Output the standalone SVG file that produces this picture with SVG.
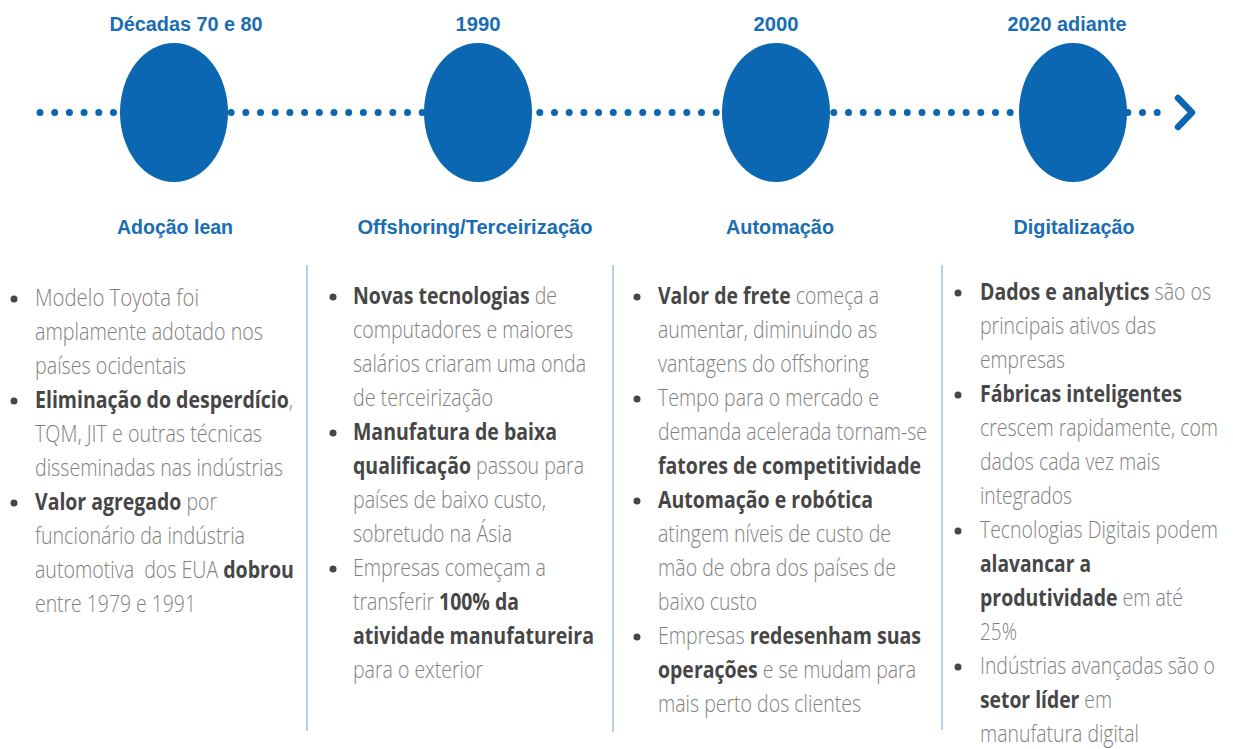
<svg xmlns="http://www.w3.org/2000/svg" width="1233" height="749" viewBox="0 0 1233 749">
<style>
.hd{font-family:"Liberation Sans",Arial,sans-serif;font-weight:bold;font-size:20px;fill:#1a6db3;text-anchor:middle}
.sub{font-family:"Liberation Sans",Arial,sans-serif;font-weight:bold;font-size:20px;fill:#1a6db3;text-anchor:middle}
.node{fill:#0b67b1}
.t{font-family:"Open Sans","Noto Sans",sans-serif;font-size:23px;font-weight:300;fill:#808080}
.b{font-weight:bold;fill:#464646}
.bul{fill:#464646}
.sep{stroke:#b5d1ea;stroke-width:2}
.dots{fill:none;stroke:#0b67b1;stroke-width:7;stroke-linecap:round;stroke-dasharray:0 14.7}
.arr{fill:none;stroke:#0b67b1;stroke-width:6.5;stroke-linecap:round;stroke-linejoin:round}
</style>
<rect width="1233" height="749" fill="#ffffff"/>
<g id="connectors">
<line class="dots" x1="40" y1="112.5" x2="1160" y2="112.5"/>
<polyline class="arr" points="1178,98 1192,112.5 1178,127"/>
</g>
<g id="node-70-80">
<ellipse class="node" cx="174" cy="112.5" rx="54" ry="69.5"/>
<text class="hd" x="186" y="31" textLength="153" lengthAdjust="spacingAndGlyphs">Décadas 70 e 80</text>
<text class="sub" x="175" y="234" textLength="116" lengthAdjust="spacingAndGlyphs">Adoção lean</text>
</g>
<g id="node-1990">
<ellipse class="node" cx="478" cy="112.5" rx="54" ry="69.5"/>
<text class="hd" x="478" y="31" textLength="45" lengthAdjust="spacingAndGlyphs">1990</text>
<text class="sub" x="475" y="234" textLength="235" lengthAdjust="spacingAndGlyphs">Offshoring/Terceirização</text>
</g>
<g id="node-2000">
<ellipse class="node" cx="776" cy="112.5" rx="54" ry="69.5"/>
<text class="hd" x="776" y="31" textLength="45" lengthAdjust="spacingAndGlyphs">2000</text>
<text class="sub" x="780" y="234" textLength="108" lengthAdjust="spacingAndGlyphs">Automação</text>
</g>
<g id="node-2020">
<ellipse class="node" cx="1073" cy="112.5" rx="54" ry="69.5"/>
<text class="hd" x="1067" y="31" textLength="119" lengthAdjust="spacingAndGlyphs">2020 adiante</text>
<text class="sub" x="1074" y="234" textLength="121" lengthAdjust="spacingAndGlyphs">Digitalização</text>
</g>
<g id="separators">
<line class="sep" x1="307" y1="265" x2="307" y2="731"/>
<line class="sep" x1="613" y1="265" x2="613" y2="732"/>
<line class="sep" x1="942" y1="265" x2="942" y2="730"/>
</g>
<g id="col-1">
<circle class="bul" cx="14" cy="299" r="3.5"/>
<circle class="bul" cx="14" cy="401" r="3.5"/>
<circle class="bul" cx="14" cy="503" r="3.5"/>
<text class="t" x="35" y="306" textLength="164" lengthAdjust="spacingAndGlyphs">Modelo Toyota foi</text>
<text class="t" x="35" y="340" textLength="228" lengthAdjust="spacingAndGlyphs">amplamente adotado nos</text>
<text class="t" x="35" y="374" textLength="151" lengthAdjust="spacingAndGlyphs">países ocidentais</text>
<text class="t" x="35" y="408" textLength="258" lengthAdjust="spacingAndGlyphs"><tspan class="b">Eliminação do desperdício</tspan>,</text>
<text class="t" x="35" y="442" textLength="227" lengthAdjust="spacingAndGlyphs">TQM, JIT e outras técnicas</text>
<text class="t" x="35" y="476" textLength="248" lengthAdjust="spacingAndGlyphs">disseminadas nas indústrias</text>
<text class="t" x="35" y="510" textLength="182" lengthAdjust="spacingAndGlyphs"><tspan class="b">Valor agregado</tspan> por</text>
<text class="t" x="35" y="544" textLength="210" lengthAdjust="spacingAndGlyphs">funcionário da indústria</text>
<text class="t" x="35" y="578" textLength="259" lengthAdjust="spacingAndGlyphs">automotiva&#160; dos EUA <tspan class="b">dobrou</tspan></text>
<text class="t" x="35" y="612" textLength="161" lengthAdjust="spacingAndGlyphs">entre 1979 e 1991</text>
</g>
<g id="col-2">
<circle class="bul" cx="333" cy="297" r="3.5"/>
<circle class="bul" cx="333" cy="433" r="3.5"/>
<circle class="bul" cx="333" cy="569" r="3.5"/>
<text class="t" x="353" y="304" textLength="204" lengthAdjust="spacingAndGlyphs"><tspan class="b">Novas tecnologias</tspan> de</text>
<text class="t" x="353" y="338" textLength="220" lengthAdjust="spacingAndGlyphs">computadores e maiores</text>
<text class="t" x="353" y="372" textLength="233" lengthAdjust="spacingAndGlyphs">salários criaram uma onda</text>
<text class="t" x="353" y="406" textLength="140" lengthAdjust="spacingAndGlyphs">de terceirização</text>
<text class="t" x="353" y="440" textLength="204" lengthAdjust="spacingAndGlyphs"><tspan class="b">Manufatura de baixa</tspan></text>
<text class="t" x="353" y="474" textLength="231" lengthAdjust="spacingAndGlyphs"><tspan class="b">qualificação</tspan> passou para</text>
<text class="t" x="353" y="508" textLength="193" lengthAdjust="spacingAndGlyphs">países de baixo custo,</text>
<text class="t" x="353" y="542" textLength="159" lengthAdjust="spacingAndGlyphs">sobretudo na Ásia</text>
<text class="t" x="353" y="576" textLength="193" lengthAdjust="spacingAndGlyphs">Empresas começam a</text>
<text class="t" x="353" y="610" textLength="166" lengthAdjust="spacingAndGlyphs">transferir <tspan class="b">100% da</tspan></text>
<text class="t" x="353" y="644" textLength="241" lengthAdjust="spacingAndGlyphs"><tspan class="b">atividade manufatureira</tspan></text>
<text class="t" x="353" y="678" textLength="130" lengthAdjust="spacingAndGlyphs">para o exterior</text>
</g>
<g id="col-3">
<circle class="bul" cx="637" cy="297" r="3.5"/>
<circle class="bul" cx="637" cy="399" r="3.5"/>
<circle class="bul" cx="637" cy="501" r="3.5"/>
<circle class="bul" cx="637" cy="637" r="3.5"/>
<text class="t" x="658" y="304" textLength="221" lengthAdjust="spacingAndGlyphs"><tspan class="b">Valor de frete</tspan> começa a</text>
<text class="t" x="658" y="338" textLength="219" lengthAdjust="spacingAndGlyphs">aumentar, diminuindo as</text>
<text class="t" x="658" y="372" textLength="211" lengthAdjust="spacingAndGlyphs">vantagens do offshoring</text>
<text class="t" x="658" y="406" textLength="221" lengthAdjust="spacingAndGlyphs">Tempo para o mercado e</text>
<text class="t" x="658" y="440" textLength="269" lengthAdjust="spacingAndGlyphs">demanda acelerada tornam-se</text>
<text class="t" x="658" y="474" textLength="263" lengthAdjust="spacingAndGlyphs"><tspan class="b">fatores de competitividade</tspan></text>
<text class="t" x="658" y="508" textLength="215" lengthAdjust="spacingAndGlyphs"><tspan class="b">Automação e robótica</tspan></text>
<text class="t" x="658" y="542" textLength="233" lengthAdjust="spacingAndGlyphs">atingem níveis de custo de</text>
<text class="t" x="658" y="576" textLength="238" lengthAdjust="spacingAndGlyphs">mão de obra dos países de</text>
<text class="t" x="658" y="610" textLength="99" lengthAdjust="spacingAndGlyphs">baixo custo</text>
<text class="t" x="658" y="644" textLength="263" lengthAdjust="spacingAndGlyphs">Empresas <tspan class="b">redesenham suas</tspan></text>
<text class="t" x="658" y="678" textLength="258" lengthAdjust="spacingAndGlyphs"><tspan class="b">operações</tspan> e se mudam para</text>
<text class="t" x="658" y="712" textLength="203" lengthAdjust="spacingAndGlyphs">mais perto dos clientes</text>
</g>
<g id="col-4">
<circle class="bul" cx="958" cy="293" r="3.5"/>
<circle class="bul" cx="958" cy="395" r="3.5"/>
<circle class="bul" cx="958" cy="531" r="3.5"/>
<circle class="bul" cx="958" cy="667" r="3.5"/>
<text class="t" x="980" y="300" textLength="231" lengthAdjust="spacingAndGlyphs"><tspan class="b">Dados e analytics</tspan> são os</text>
<text class="t" x="980" y="334" textLength="176" lengthAdjust="spacingAndGlyphs">principais ativos das</text>
<text class="t" x="980" y="368" textLength="85" lengthAdjust="spacingAndGlyphs">empresas</text>
<text class="t" x="980" y="402" textLength="202" lengthAdjust="spacingAndGlyphs"><tspan class="b">Fábricas inteligentes</tspan></text>
<text class="t" x="980" y="436" textLength="238" lengthAdjust="spacingAndGlyphs">crescem rapidamente, com</text>
<text class="t" x="980" y="470" textLength="180" lengthAdjust="spacingAndGlyphs">dados cada vez mais</text>
<text class="t" x="980" y="504" textLength="92" lengthAdjust="spacingAndGlyphs">integrados</text>
<text class="t" x="980" y="538" textLength="238" lengthAdjust="spacingAndGlyphs">Tecnologias Digitais podem</text>
<text class="t" x="980" y="572" textLength="111" lengthAdjust="spacingAndGlyphs"><tspan class="b">alavancar a</tspan></text>
<text class="t" x="980" y="606" textLength="203" lengthAdjust="spacingAndGlyphs"><tspan class="b">produtividade</tspan> em até</text>
<text class="t" x="980" y="640" textLength="37" lengthAdjust="spacingAndGlyphs">25%</text>
<text class="t" x="980" y="674" textLength="235" lengthAdjust="spacingAndGlyphs">Indústrias avançadas são o</text>
<text class="t" x="980" y="708" textLength="132" lengthAdjust="spacingAndGlyphs"><tspan class="b">setor líder</tspan> em</text>
<text class="t" x="980" y="742" textLength="159" lengthAdjust="spacingAndGlyphs">manufatura digital</text>
</g>
</svg>
